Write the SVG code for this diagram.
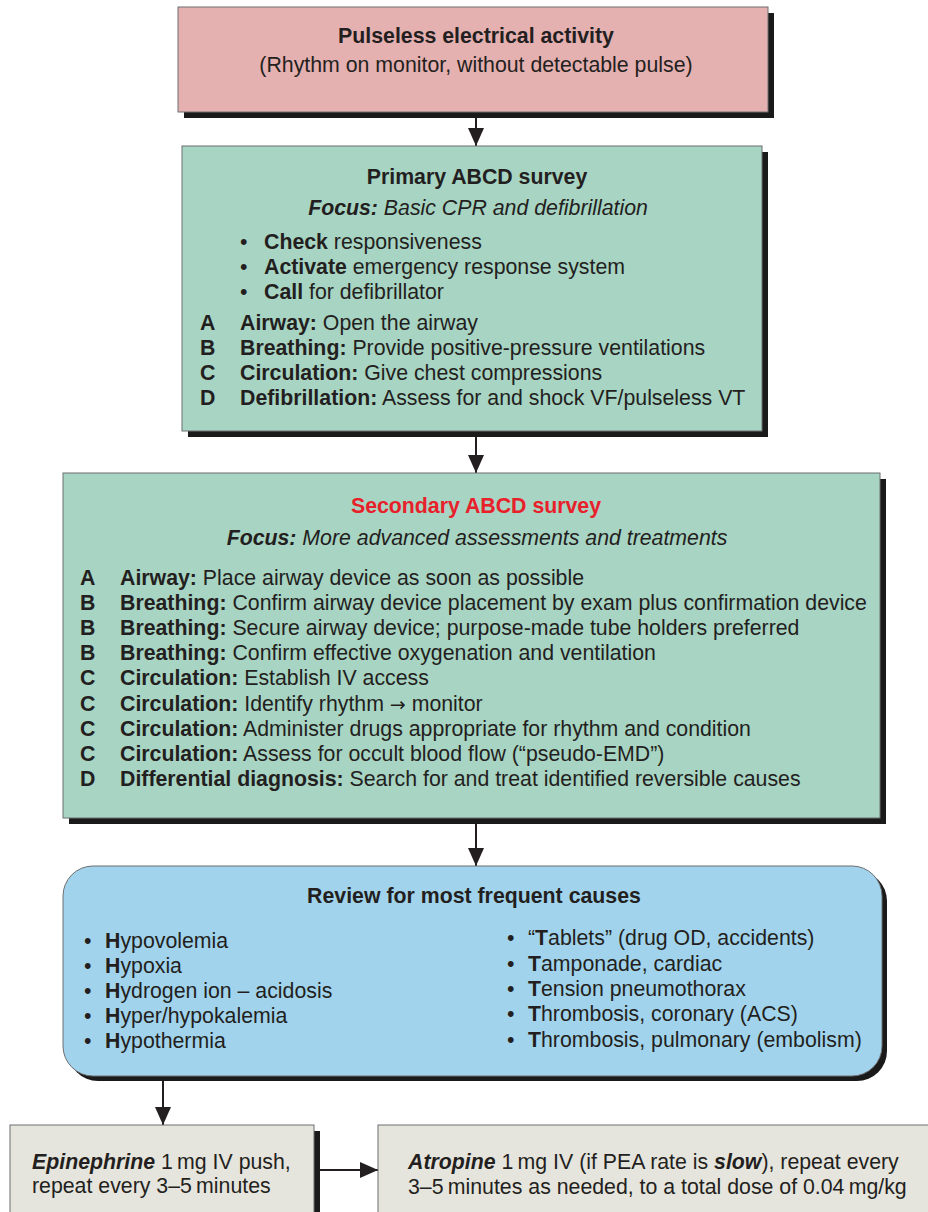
<svg xmlns="http://www.w3.org/2000/svg" width="928" height="1212" viewBox="0 0 928 1212">
<style>
text{font-family:"Liberation Sans",Arial,sans-serif;font-size:21.3px;fill:#231f20}
.b{font-weight:bold}
.i{font-style:italic}
.c{text-anchor:middle}
.box{stroke:#6d6e70;stroke-width:1}
.sh{fill:#1a1a1a}
.red{fill:#e8202a}
.ar{font-family:"DejaVu Sans",sans-serif;font-size:19px}
.conn{stroke:#231f20;stroke-width:2;fill:none}
</style>
<defs>
<marker id="ah" markerWidth="18" markerHeight="16" viewBox="0 0 18 16" refX="18" refY="8" orient="auto" markerUnits="userSpaceOnUse">
<path d="M0,0 L18,8 L0,16 Z" fill="#231f20"/>
</marker>
</defs>
<rect width="928" height="1212" fill="#fff"/>

<g id="connectors">
<line class="conn" x1="476" y1="112" x2="476" y2="146" marker-end="url(#ah)"/>
<line class="conn" x1="476" y1="431" x2="476" y2="473" marker-end="url(#ah)"/>
<line class="conn" x1="476" y1="819" x2="476" y2="866" marker-end="url(#ah)"/>
<line class="conn" x1="163" y1="1077" x2="163" y2="1125" marker-end="url(#ah)"/>
<line class="conn" x1="320" y1="1170" x2="378" y2="1170" marker-end="url(#ah)"/>
</g>

<g id="pea">
<rect class="sh" x="184" y="13" width="590" height="105"/>
<rect class="box" x="178" y="7" width="590" height="105" fill="#e5b0b0"/>
<text class="b c" x="476" y="43">Pulseless electrical activity</text>
<text class="c" x="476" y="72">(Rhythm on monitor, without detectable pulse)</text>
</g>

<g id="primary">
<rect class="sh" x="188" y="152" width="580" height="285"/>
<rect class="box" x="182" y="146" width="580" height="285" fill="#a8d4c3"/>
<text class="b c" x="477" y="184">Primary ABCD survey</text>
<text class="i c" x="478" y="215"><tspan class="b">Focus:</tspan> Basic CPR and defibrillation</text>
<text x="240" y="249">•</text><text x="264" y="249"><tspan class="b">Check</tspan> responsiveness</text>
<text x="240" y="274">•</text><text x="264" y="274"><tspan class="b">Activate</tspan> emergency response system</text>
<text x="240" y="299">•</text><text x="264" y="299"><tspan class="b">Call</tspan> for defibrillator</text>
<text class="b" x="200" y="330">A</text><text x="240" y="330"><tspan class="b">Airway:</tspan> Open the airway</text>
<text class="b" x="200" y="355">B</text><text x="240" y="355"><tspan class="b">Breathing:</tspan> Provide positive-pressure ventilations</text>
<text class="b" x="200" y="380">C</text><text x="240" y="380"><tspan class="b">Circulation:</tspan> Give chest compressions</text>
<text class="b" x="200" y="405">D</text><text x="240" y="405"><tspan class="b">Defibrillation:</tspan> Assess for and shock VF/pulseless VT</text>
</g>

<g id="secondary">
<rect class="sh" x="69" y="479" width="817" height="345"/>
<rect class="box" x="63" y="473" width="817" height="345" fill="#a8d4c3"/>
<text class="b c red" x="476" y="513">Secondary ABCD survey</text>
<text class="i c" x="477" y="545"><tspan class="b">Focus:</tspan> More advanced assessments and treatments</text>
<text class="b" x="80" y="585">A</text><text x="120" y="585"><tspan class="b">Airway:</tspan> Place airway device as soon as possible</text>
<text class="b" x="80" y="610">B</text><text x="120" y="610"><tspan class="b">Breathing:</tspan> Confirm airway device placement by exam plus confirmation device</text>
<text class="b" x="80" y="635">B</text><text x="120" y="635"><tspan class="b">Breathing:</tspan> Secure airway device; purpose-made tube holders preferred</text>
<text class="b" x="80" y="660">B</text><text x="120" y="660"><tspan class="b">Breathing:</tspan> Confirm effective oxygenation and ventilation</text>
<text class="b" x="80" y="685">C</text><text x="120" y="685"><tspan class="b">Circulation:</tspan> Establish IV access</text>
<text class="b" x="80" y="711">C</text><text x="120" y="711"><tspan class="b">Circulation:</tspan> Identify rhythm <tspan class="ar">→</tspan> monitor</text>
<text class="b" x="80" y="736">C</text><text x="120" y="736"><tspan class="b">Circulation:</tspan> Administer drugs appropriate for rhythm and condition</text>
<text class="b" x="80" y="761">C</text><text x="120" y="761"><tspan class="b">Circulation:</tspan> Assess for occult blood flow (“pseudo-EMD”)</text>
<text class="b" x="80" y="786">D</text><text x="120" y="786"><tspan class="b">Differential diagnosis:</tspan> Search for and treat identified reversible causes</text>
</g>

<g id="causes">
<rect class="sh" x="68" y="871" width="819" height="210" rx="30" ry="30"/>
<rect class="box" x="63" y="866" width="819" height="210" rx="30" ry="30" fill="#a1d4ec"/>
<text class="b c" x="474" y="903">Review for most frequent causes</text>
<text x="84" y="948">•</text><text x="105" y="948"><tspan class="b">H</tspan>ypovolemia</text>
<text x="84" y="973">•</text><text x="105" y="973"><tspan class="b">H</tspan>ypoxia</text>
<text x="84" y="998">•</text><text x="105" y="998"><tspan class="b">H</tspan>ydrogen ion – acidosis</text>
<text x="84" y="1023">•</text><text x="105" y="1023"><tspan class="b">H</tspan>yper/hypokalemia</text>
<text x="84" y="1048">•</text><text x="105" y="1048"><tspan class="b">H</tspan>ypothermia</text>
<text x="507" y="945">•</text><text x="528" y="945">“<tspan class="b">T</tspan>ablets” (drug OD, accidents)</text>
<text x="507" y="971">•</text><text x="528" y="971"><tspan class="b">T</tspan>amponade, cardiac</text>
<text x="507" y="996">•</text><text x="528" y="996"><tspan class="b">T</tspan>ension pneumothorax</text>
<text x="507" y="1021">•</text><text x="528" y="1021"><tspan class="b">T</tspan>hrombosis, coronary (ACS)</text>
<text x="507" y="1047">•</text><text x="528" y="1047"><tspan class="b">T</tspan>hrombosis, pulmonary (embolism)</text>
</g>

<g id="epinephrine">
<rect class="sh" x="16" y="1131" width="304" height="100"/>
<rect class="box" x="10" y="1125" width="304" height="100" fill="#e6e5dd"/>
<text x="32" y="1169"><tspan class="b i">Epinephrine</tspan> 1&#8201;mg IV push,</text>
<text x="32" y="1193">repeat every 3–5&#8201;minutes</text>
</g>

<g id="atropine">
<rect class="box" x="378" y="1125" width="570" height="100" fill="#e6e5dd"/>
<text x="408" y="1169"><tspan class="b i">Atropine</tspan> 1&#8201;mg IV (if PEA rate is <tspan class="b i">slow</tspan>), repeat every</text>
<text x="408" y="1194">3–5&#8201;minutes as needed, to a total dose of 0.04&#8201;mg/kg</text>
</g>
</svg>
